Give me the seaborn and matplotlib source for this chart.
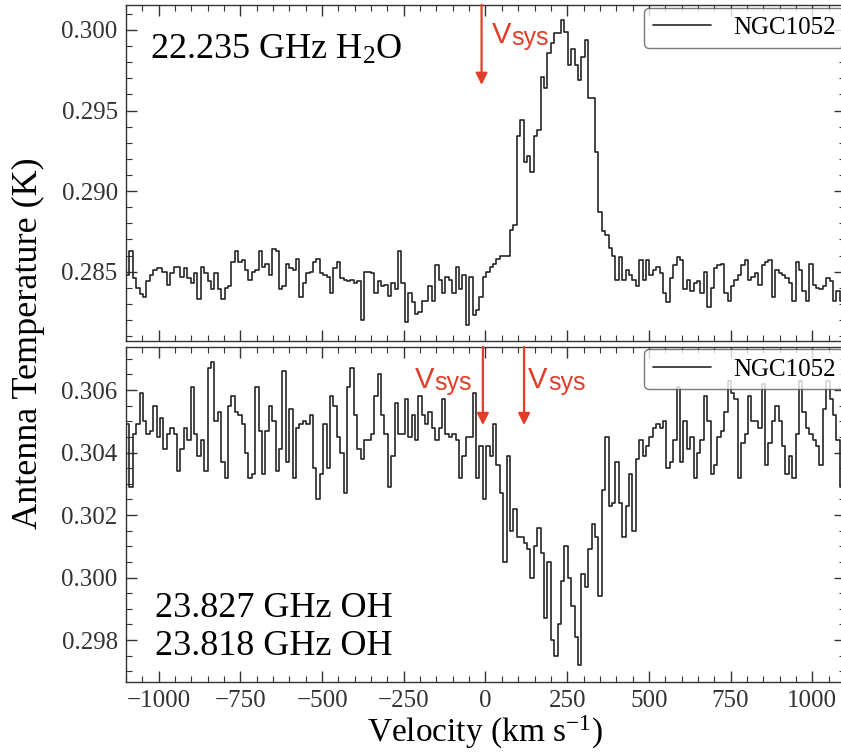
import numpy as np
import pandas as pd
import matplotlib
matplotlib.use("Agg")
import matplotlib.pyplot as plt
from matplotlib.ticker import MultipleLocator, FormatStrFormatter
import seaborn as sns

sns.set_style("ticks")
plt.rcParams.update({
    "font.family": ["Liberation Serif", "DejaVu Serif"],
    "mathtext.fontset": "custom",
    "mathtext.rm": "Liberation Serif",
    "mathtext.it": "Liberation Serif:italic",
    "mathtext.bf": "Liberation Serif:bold",
    "axes.edgecolor": "#333333",
    "axes.linewidth": 1.0,
    "xtick.color": "#333333",
    "ytick.color": "#333333",
    "text.color": "black",
})

# spectral channels: left edge of first channel and channel width (km/s)
channel_start = -1100.0 - 10.4
channel_width = 10.4

# 22.235 GHz H2O spectrum, antenna temperature (K) per channel
h2o = [
    0.2848,
    0.2848, 0.2863, 0.2846, 0.2840, 0.2836, 0.2834, 0.2844, 0.2848, 0.2851, 0.2852,
    np.nan, 0.2850, 0.2842, 0.2849, 0.2853, 0.2853, 0.2847, 0.2852, 0.2846, 0.2843,
    0.2849, 0.2833, 0.2853, 0.2849, 0.2844, 0.2839, 0.2849, 0.2839, 0.2833, 0.2840,
    0.2841, 0.2856, 0.2863, 0.2856, 0.2857, 0.2851, 0.2845, 0.2850, 0.2851, 0.2863,
    0.2853, 0.2855, 0.2848, 0.2864, 0.2863, 0.2839, 0.2841, 0.2855, 0.2852, 0.2851,
    0.2858, 0.2834, 0.2843, 0.2849, 0.2850, 0.2856, 0.2858, 0.2849, 0.2848, 0.2847,
    0.2837, 0.2852, 0.2856, 0.2846, 0.2845, 0.2844, 0.2845, 0.2843, 0.2844, 0.2820,
    0.2850, 0.2850, 0.2849, 0.2837, 0.2844, 0.2841, 0.2842, 0.2835, 0.2843, 0.2839,
    0.2863, 0.2843, 0.2819, 0.2837, 0.2831, 0.2824, 0.2825, 0.2832, 0.2832, 0.2841,
    0.2832, 0.2854, 0.2845, 0.2837, 0.2847, 0.2845, 0.2837, 0.2853, 0.2839, 0.2848,
    0.2817, 0.2847, 0.2823, 0.2826, 0.2834, 0.2847, 0.2850, 0.2853, 0.2855, 0.2858,
    0.2860, 0.2860, 0.2860, 0.2876, 0.2879, 0.2934, 0.2944, 0.2918, 0.2922, 0.2912,
    0.2934, 0.2938, 0.2971, 0.2964, 0.2986, 0.2992, 0.2998, 0.2998, 0.3006, 0.2999,
    0.2978, 0.2988, 0.2978, 0.2969, 0.2983, 0.2994, 0.2958, 0.2958, 0.2924, 0.2887,
    0.2875, 0.2873, 0.2865, 0.2860, 0.2845, 0.2859, 0.2845, 0.2851, 0.2848, 0.2845,
    0.2841, 0.2857, 0.2845, 0.2857, 0.2848, 0.2851, 0.2853, 0.2849, 0.2837, 0.2831,
    0.2846, 0.2854, 0.2859, 0.2857, 0.2839, 0.2845, 0.2838, 0.2843, 0.2844, 0.2837,
    0.2850, 0.2828, 0.2840, 0.2852, 0.2854, 0.2855, 0.2837, 0.2832, 0.2841, 0.2845,
    0.2848, 0.2854, 0.2857, 0.2845, 0.2847, 0.2849, 0.2842, 0.2854, 0.2856, 0.2857,
    0.2834, 0.2851, 0.2849, 0.2848, 0.2846, 0.2843, 0.2832, 0.2856, 0.2851, 0.2838,
    0.2832, 0.2855, 0.2842, 0.2840, 0.2839, 0.2841, 0.2846, 0.2844, 0.2832, 0.2838,
    0.2832, 0.2840,
]

# 23.827 / 23.818 GHz OH spectrum, antenna temperature (K) per channel
oh = [
    0.3024,
    0.3049, 0.3029, 0.3046, 0.3049, 0.3059, 0.3050, 0.3046, 0.3047, 0.3055, 0.3045,
    0.3051, 0.3041, 0.3046, 0.3048, 0.3046, 0.3034, 0.3041, 0.3048, 0.3044, 0.3061,
    0.3046, 0.3039, 0.3044, 0.3034, 0.3067, 0.3069, 0.3050, 0.3053, 0.3037, 0.3032,
    0.3055, 0.3058, 0.3053, 0.3052, 0.3049, 0.3040, 0.3032, 0.3033, 0.3061, 0.3047,
    0.3033, 0.3047, 0.3055, 0.3050, 0.3034, 0.3041, 0.3066, 0.3037, 0.3054, 0.3032,
    0.3048, 0.3049, 0.3050, 0.3049, 0.3052, 0.3035, 0.3025, 0.3033, 0.3049, 0.3035,
    0.3058, 0.3055, 0.3045, 0.3040, 0.3027, 0.3061, 0.3067, 0.3052, 0.3041, 0.3038,
    0.3044, 0.3044, 0.3046, 0.3058, 0.3065, 0.3052, 0.3046, 0.3029, 0.3039, 0.3056,
    0.3046, 0.3046, 0.3057, 0.3045, 0.3052, 0.3044, 0.3058, 0.3052, 0.3049, 0.3053,
    0.3048, 0.3044, 0.3048, 0.3057, 0.3046, 0.3045, 0.3046, 0.3044, 0.3032, 0.3039,
    0.3045, 0.3045, 0.3059, 0.3032, 0.3042, 0.3025, 0.3042, 0.3039, 0.3049, 0.3036,
    0.3027, 0.3005, 0.3039, 0.3015, 0.3022, 0.3013, 0.3013, 0.3011, 0.3009, 0.3000,
    0.3010, 0.3016, 0.3008, 0.2987, 0.3005, 0.2980, 0.2975, 0.2985, 0.2999, 0.3010,
    0.3000, 0.2991, 0.2981, 0.2972, 0.3001, 0.2997, 0.3009, 0.3017, 0.3013, 0.2994,
    0.3028, 0.3045, 0.3023, 0.3024, 0.3037, 0.3024, 0.3013, 0.3023, 0.3033, 0.3015,
    0.3038, 0.3044, 0.3039, 0.3042, 0.3045, 0.3048, 0.3049, 0.3048, 0.3050, 0.3035,
    0.3037, 0.3044, 0.3061, 0.3037, 0.3050, 0.3041, 0.3045, 0.3032, 0.3040, 0.3044,
    0.3058, 0.3050, 0.3033, 0.3036, 0.3045, 0.3047, 0.3053, 0.3063, 0.3059, 0.3057,
    0.3032, 0.3043, 0.3046, 0.3058, 0.3050, 0.3050, 0.3048, 0.3062, 0.3036, 0.3043,
    0.3050, 0.3055, 0.3050, 0.3042, 0.3033, 0.3039, 0.3032, 0.3046, 0.3063, 0.3053,
    0.3048, 0.3046, 0.3044, 0.3042, 0.3036, 0.3054, 0.3063, 0.3057, 0.3052, 0.3044,
    0.3029, 0.3033,
]

# systemic-velocity markers (km/s)
vsys_h2o = [-12.0]
vsys_oh = [-8.0, 118.0]

x_ticks = [-1000, -750, -500, -250, 0, 250, 500, 750, 1000]

velocity = channel_start + channel_width * (np.arange(len(h2o)) + 0.5)
spec = pd.DataFrame({"velocity": velocity, "h2o": h2o, "oh": oh})

RED = "#e23d28"
LINE = "#262626"

fig = plt.figure(figsize=(8.41, 7.55), dpi=100)
ax1 = fig.add_axes([0.14982, 0.54834, 0.85493, 0.44503])
ax2 = fig.add_axes([0.14982, 0.09669, 0.85493, 0.44371], sharex=ax1)

sns.lineplot(data=spec, x="velocity", y="h2o", ax=ax1, estimator=None,
             drawstyle="steps-mid", color=LINE, linewidth=1.2, label="NGC1052")
sns.lineplot(data=spec, x="velocity", y="oh", ax=ax2, estimator=None,
             drawstyle="steps-mid", color=LINE, linewidth=1.2, label="NGC1052")

ax1.set_xlim(-1100, 1100)
ax1.set_ylim(0.2807, 0.30155)
ax2.set_ylim(0.29666, 0.30738)

for ax in (ax1, ax2):
    ax.set_xlabel("")
    ax.set_ylabel("")
    ax.set_xticks(x_ticks)
    ax.xaxis.set_minor_locator(MultipleLocator(50))
    ax.tick_params(which="both", direction="in", top=True, right=True,
                   labelsize=18, pad=6)
    ax.tick_params(which="major", length=8, width=1.0)
    ax.tick_params(which="minor", length=4, width=0.8)
    ax.legend(loc="upper right", bbox_to_anchor=(1.0 + 2 / 719, 1.0),
              borderaxespad=0.1, fontsize=18, frameon=True, fancybox=True,
              edgecolor="0.35", framealpha=0.8, handlelength=2.3,
              borderpad=0.35, handletextpad=0.9)

ax1.yaxis.set_major_locator(MultipleLocator(0.005))
ax1.yaxis.set_minor_locator(MultipleLocator(0.001))
ax1.yaxis.set_major_formatter(FormatStrFormatter("%.3f"))
ax1.tick_params(labelbottom=False)

ax2.yaxis.set_major_locator(MultipleLocator(0.002))
ax2.yaxis.set_minor_locator(MultipleLocator(0.0005))
ax2.yaxis.set_major_formatter(FormatStrFormatter("%.3f"))

# line identifications
ax1.text(0.033, 0.839, r"22.235 GHz H$_2$O", transform=ax1.transAxes,
         fontsize=26, ha="left", va="baseline")
ax2.text(0.040, 0.194, "23.827 GHz OH", transform=ax2.transAxes,
         fontsize=26, ha="left", va="baseline")
ax2.text(0.040, 0.080, "23.818 GHz OH", transform=ax2.transAxes,
         fontsize=26, ha="left", va="baseline")


def vsys_arrow(ax, v, tip):
    top = ax.get_ylim()[1]
    ax.annotate("", xy=(v, tip), xytext=(v, top),
                arrowprops=dict(arrowstyle="-|>,head_length=0.5,head_width=0.25",
                                color=RED, lw=1.6, mutation_scale=14,
                                shrinkA=0, shrinkB=0))


def vsys_label(ax, v, y):
    ax.text(v, y, "V", color=RED, fontsize=21, family="Liberation Sans",
            ha="left", va="baseline")
    ax.annotate("sys", xy=(v, y), xytext=(14.3, -1.5), textcoords="offset points",
                color=RED, fontsize=18, family="Liberation Sans",
                ha="left", va="baseline")


vsys_arrow(ax1, vsys_h2o[0], 0.29659)
vsys_label(ax1, 19, 0.29919)

for v in vsys_oh:
    vsys_arrow(ax2, v, 0.30488)
vsys_label(ax2, -216, 0.30606)
vsys_label(ax2, 130, 0.30606)

fig.text(0.034, 0.545, "Antenna Temperature (K)", rotation=90, fontsize=26,
         ha="center", va="center")
fig.text(0.577, 0.018, r"Velocity (km s$^{-1}$)", fontsize=24,
         ha="center", va="baseline")

fig.savefig("out.png", dpi=100)
